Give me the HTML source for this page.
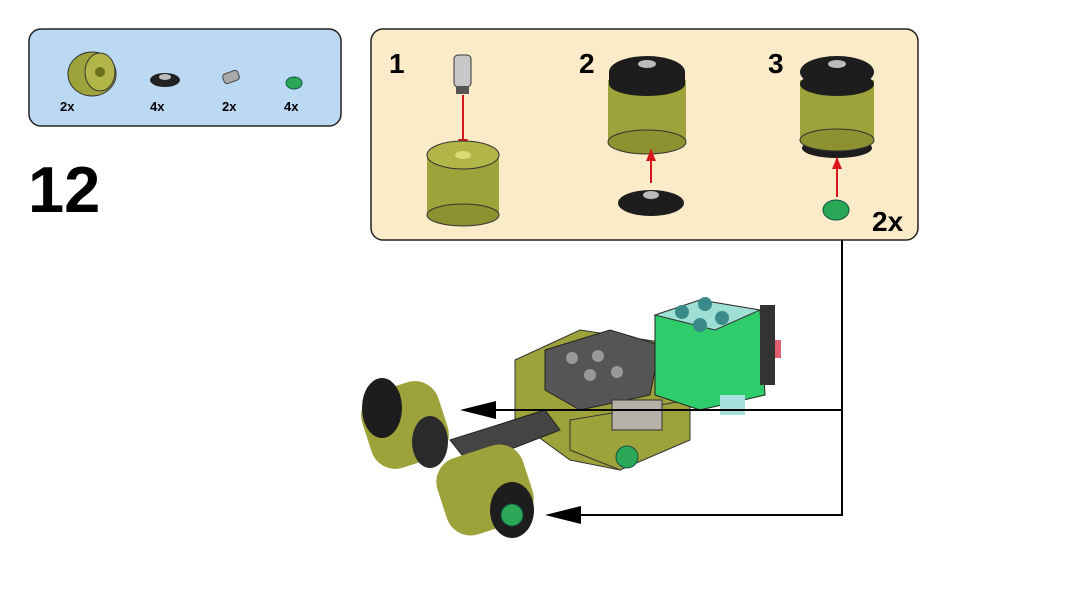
<!DOCTYPE html>
<html><head><meta charset="utf-8"><style>
html,body{margin:0;padding:0;background:#fff;}
svg{display:block;font-family:"Liberation Sans",Arial,sans-serif;}
</style></head><body>
<svg width="1089" height="612" viewBox="0 0 1089 612">
<defs>
<marker id="ah" markerWidth="12" markerHeight="10" refX="11" refY="5" orient="auto" markerUnits="userSpaceOnUse"><path d="M0,0 L12,5 L0,10 Z" fill="#d8141c"/></marker>
</defs>
<rect x="29" y="29" width="312" height="97" rx="12" fill="#bcd9f4" stroke="#222" stroke-width="1.5"/>
<ellipse cx="92" cy="74" rx="24" ry="22" fill="#9ea23a" stroke="#333"/>
<ellipse cx="100" cy="72" rx="15" ry="19" fill="#b2b648" stroke="#333"/>
<circle cx="100" cy="72" r="5" fill="#6b6e1a"/>
<text x="60" y="111" font-size="13" font-weight="bold">2x</text>
<ellipse cx="165" cy="80" rx="15" ry="7" fill="#222"/><ellipse cx="165" cy="77" rx="6" ry="3" fill="#bbb"/>
<text x="150" y="111" font-size="13" font-weight="bold">4x</text>
<rect x="223" y="72" width="16" height="10" rx="3" fill="#aaa" stroke="#444" transform="rotate(-20 231 77)"/>
<text x="222" y="111" font-size="13" font-weight="bold">2x</text>
<ellipse cx="294" cy="83" rx="8" ry="6" fill="#2aa857" stroke="#154"/>
<text x="284" y="111" font-size="13" font-weight="bold">4x</text>
<text x="28" y="212" font-size="65" font-weight="bold">12</text>
<rect x="371" y="29" width="547" height="211" rx="12" fill="#fcebc8" stroke="#222" stroke-width="1.5"/>
<text x="389" y="73" font-size="28" font-weight="bold">1</text>
<text x="579" y="73" font-size="28" font-weight="bold">2</text>
<text x="768" y="73" font-size="28" font-weight="bold">3</text>
<text x="872" y="231" font-size="28" font-weight="bold">2x</text>
<rect x="454" y="55" width="17" height="32" rx="4" fill="#c8c8c8" stroke="#333"/>
<rect x="456" y="86" width="13" height="8" fill="#555"/>
<line x1="463" y1="95" x2="463" y2="150" stroke="#d8141c" stroke-width="2" marker-end="url(#ah)"/>
<rect x="427" y="155" width="72" height="60" fill="#9ea23a"/>
<ellipse cx="463" cy="215" rx="36" ry="11" fill="#8d9130" stroke="#333"/>
<ellipse cx="463" cy="155" rx="36" ry="14" fill="#b2b648" stroke="#333"/>
<ellipse cx="463" cy="155" rx="8" ry="4" fill="#d8dc70"/>
<rect x="608" y="80" width="78" height="62" fill="#9ea23a"/>
<ellipse cx="647" cy="142" rx="39" ry="12" fill="#8d9130" stroke="#333"/>
<ellipse cx="647" cy="72" rx="38" ry="16" fill="#1d1d1d"/>
<rect x="609" y="72" width="76" height="12" fill="#1d1d1d"/>
<ellipse cx="647" cy="84" rx="38" ry="12" fill="#1d1d1d"/>
<ellipse cx="647" cy="64" rx="9" ry="4" fill="#bbb"/>
<line x1="651" y1="183" x2="651" y2="150" stroke="#d8141c" stroke-width="2" marker-end="url(#ah)"/>
<ellipse cx="651" cy="203" rx="33" ry="13" fill="#1d1d1d"/>
<ellipse cx="651" cy="195" rx="8" ry="4" fill="#bbb"/>
<rect x="800" y="80" width="74" height="62" fill="#9ea23a"/>
<ellipse cx="837" cy="148" rx="35" ry="10" fill="#1d1d1d"/>
<ellipse cx="837" cy="140" rx="37" ry="11" fill="#8d9130" stroke="#333"/>
<ellipse cx="837" cy="72" rx="37" ry="16" fill="#1d1d1d"/>
<ellipse cx="837" cy="84" rx="37" ry="12" fill="#1d1d1d"/>
<ellipse cx="837" cy="64" rx="9" ry="4" fill="#bbb"/>
<line x1="837" y1="197" x2="837" y2="158" stroke="#d8141c" stroke-width="2" marker-end="url(#ah)"/>
<ellipse cx="836" cy="210" rx="13" ry="10" fill="#2aa857" stroke="#154"/>
<polygon points="515,360 580,330 680,345 690,420 620,470 570,460 515,420" fill="#9ea23a" stroke="#333"/>
<polygon points="545,350 610,330 660,345 650,395 580,410 545,390" fill="#555" stroke="#222"/>
<circle cx="572" cy="358" r="6" fill="#999"/><circle cx="598" cy="356" r="6" fill="#999"/><circle cx="590" cy="375" r="6" fill="#999"/><circle cx="617" cy="372" r="6" fill="#999"/>
<polygon points="570,420 690,400 690,440 620,470 570,450" fill="#9ea23a" stroke="#333"/>
<rect x="612" y="400" width="50" height="30" fill="#b5b0a8" stroke="#333"/>
<polygon points="655,315 700,300 760,310 765,395 700,410 655,395" fill="#2ecc6a" stroke="#222"/>
<polygon points="655,315 700,300 760,310 715,330" fill="#9fe0d6" stroke="#333"/>
<circle cx="682" cy="312" r="7" fill="#3a8a8a"/><circle cx="705" cy="304" r="7" fill="#3a8a8a"/><circle cx="700" cy="325" r="7" fill="#3a8a8a"/><circle cx="722" cy="318" r="7" fill="#3a8a8a"/>
<rect x="760" y="305" width="15" height="80" fill="#333"/>
<rect x="775" y="340" width="6" height="18" fill="#e06070"/>
<rect x="720" y="395" width="25" height="20" fill="#a8e0e0"/>
<polygon points="450,440 545,410 560,430 470,465" fill="#444" stroke="#222"/>
<circle cx="627" cy="457" r="11" fill="#2aa857" stroke="#154"/>
<rect x="365" y="385" width="80" height="80" rx="25" fill="#9ea23a" transform="rotate(-18 405 425)"/>
<ellipse cx="382" cy="408" rx="20" ry="30" fill="#1d1d1d"/>
<ellipse cx="430" cy="442" rx="18" ry="26" fill="#2a2a2a"/>
<rect x="440" y="450" width="90" height="80" rx="25" fill="#9ea23a" transform="rotate(-18 485 490)"/>
<ellipse cx="512" cy="510" rx="22" ry="28" fill="#1d1d1d"/>
<circle cx="512" cy="515" r="11" fill="#2aa857" stroke="#154"/>
<path d="M842,240 V515 H560" fill="none" stroke="#000" stroke-width="2"/>
<path d="M842,410 H480" fill="none" stroke="#000" stroke-width="2"/>
<path d="M545,515 l36,-9 v18 Z" fill="#000"/>
<path d="M460,410 l36,-9 v18 Z" fill="#000"/>
</svg>
</body></html>
